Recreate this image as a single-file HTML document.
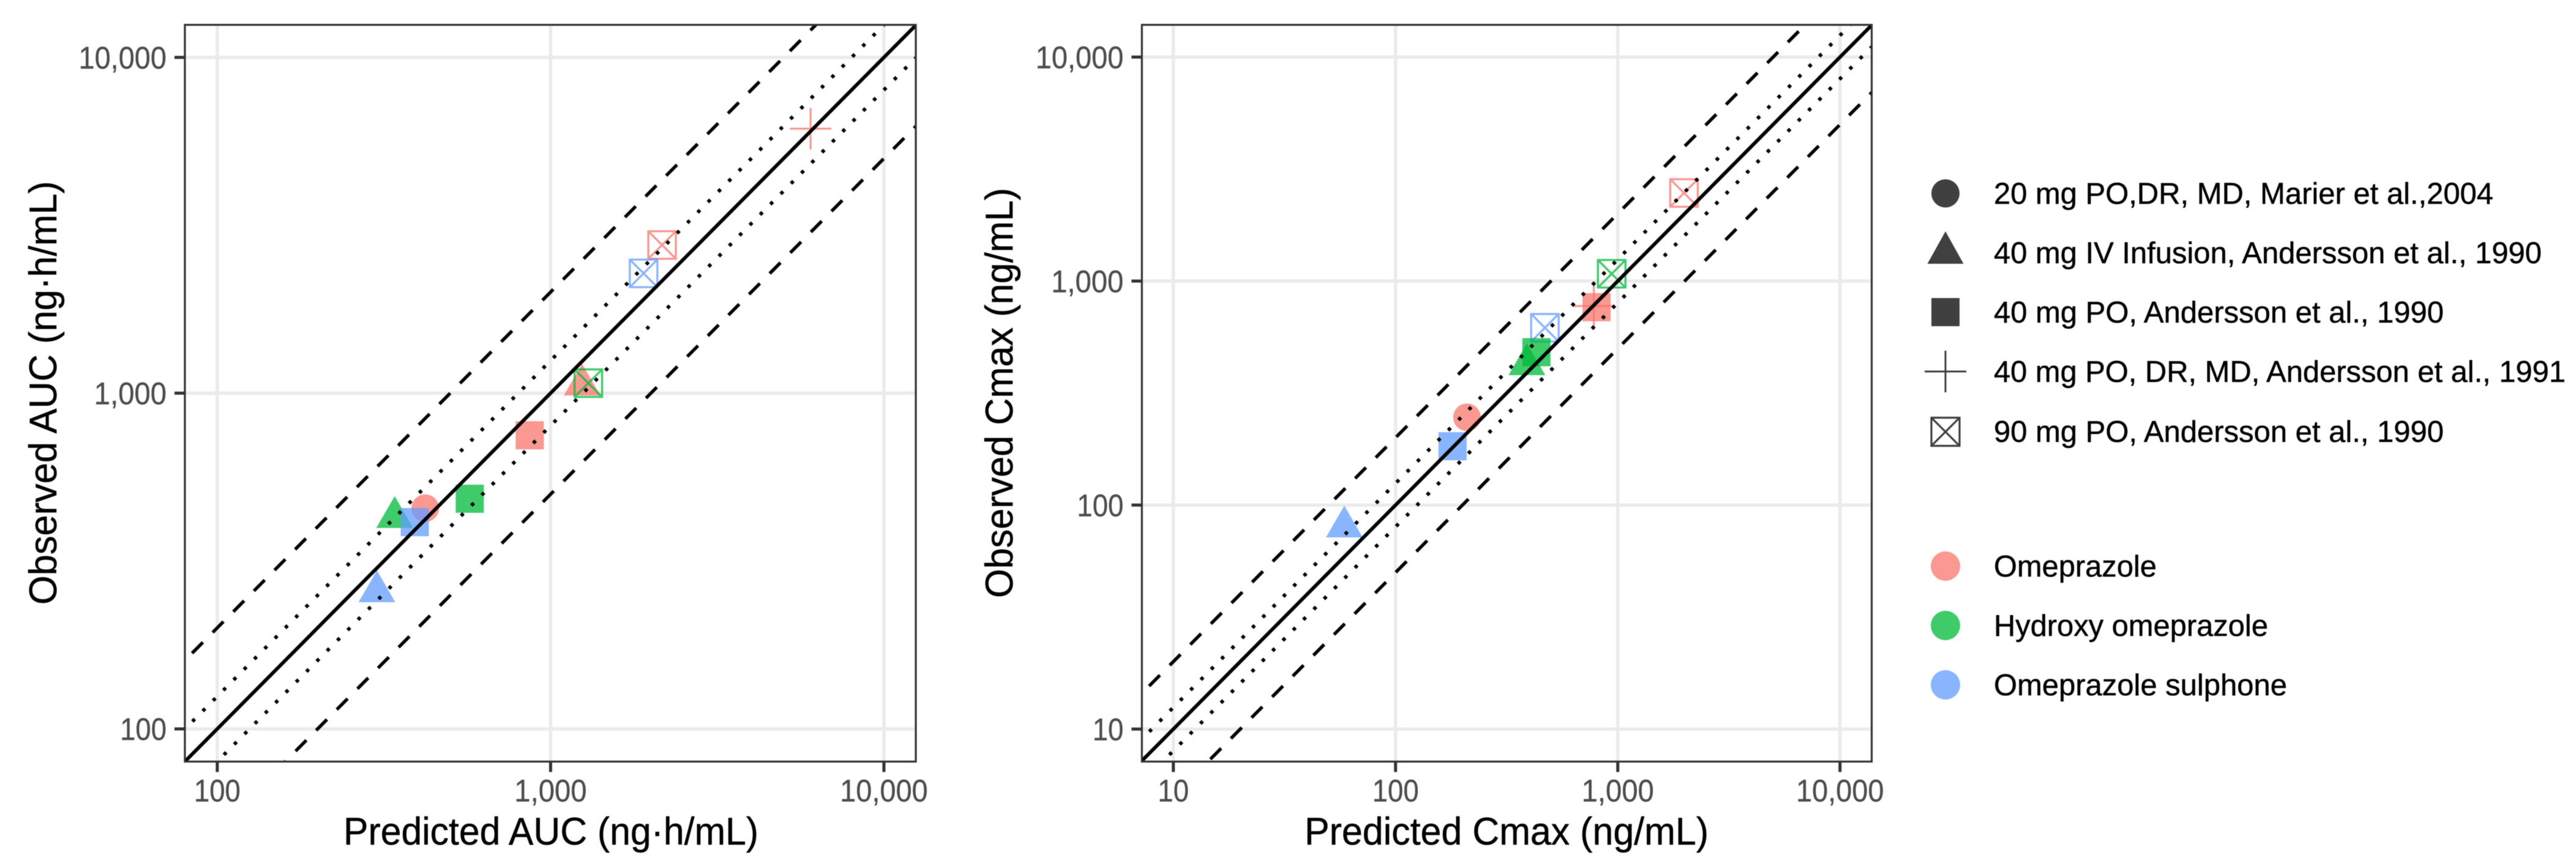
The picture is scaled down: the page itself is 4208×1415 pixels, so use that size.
<!DOCTYPE html>
<html lang="en">
<head>
<meta charset="utf-8">
<title>Observed vs predicted AUC and Cmax</title>
<style>
html,body{margin:0;padding:0;background:#fff;overflow:hidden;}
svg{display:block;filter:blur(0.6px);}
text{font-family:"Liberation Sans",Arial,sans-serif;}
.tick-label{fill:#4d4d4d;stroke:#4d4d4d;stroke-width:0.4px;font-size:51px;}
.axis-title{fill:#000;stroke:#000;stroke-width:0.5px;font-size:63px;}
.legend-label{fill:#000;stroke:#000;stroke-width:0.5px;font-size:49.5px;}
</style>
</head>
<body>
<svg id="figure" xmlns="http://www.w3.org/2000/svg" width="4208" height="1415" viewBox="0 0 4208 1415">
  <rect x="0" y="0" width="4208" height="1415" fill="#fff"/>
  <g id="auc-panel"></g>
  <g id="cmax-panel"></g>

  <text class="axis-title" x="561" y="1380" textLength="678" lengthAdjust="spacingAndGlyphs">Predicted AUC (ng·h/mL)</text>
  <text class="axis-title" transform="translate(92,988) rotate(-90)" x="0" y="0" textLength="692" lengthAdjust="spacingAndGlyphs">Observed AUC (ng·h/mL)</text>
  <text class="axis-title" x="2131" y="1380" textLength="660" lengthAdjust="spacingAndGlyphs">Predicted Cmax (ng/mL)</text>
  <text class="axis-title" transform="translate(1654,977) rotate(-90)" x="0" y="0" textLength="670" lengthAdjust="spacingAndGlyphs">Observed Cmax (ng/mL)</text>

  <g>
    <g>
      <circle cx="3178" cy="316" r="23" fill="#404040"/>
      <text class="legend-label" x="3257" y="333" textLength="816" lengthAdjust="spacingAndGlyphs">20 mg PO,DR, MD, Marier et al.,2004</text>
    </g>
    <g>
      <polygon points="3178,378 3207.5,431 3148.5,431" fill="#404040"/>
      <text class="legend-label" x="3257" y="430" textLength="895" lengthAdjust="spacingAndGlyphs">40 mg IV Infusion, Andersson et al., 1990</text>
    </g>
    <g>
      <rect x="3155" y="487" width="46" height="46" fill="#404040"/>
      <text class="legend-label" x="3257" y="527" textLength="735" lengthAdjust="spacingAndGlyphs">40 mg PO, Andersson et al., 1990</text>
    </g>
    <g>
      <path d="M3144 607H3212M3178 573V641" stroke="#404040" stroke-width="3" fill="none"/>
      <text class="legend-label" x="3257" y="624" textLength="934" lengthAdjust="spacingAndGlyphs">40 mg PO, DR, MD, Andersson et al., 1991</text>
    </g>
    <g>
      <path d="M3155 682.5H3201V728.5H3155ZM3155 682.5L3201 728.5M3201 682.5L3155 728.5" stroke="#404040" stroke-width="3.2" fill="none"/>
      <text class="legend-label" x="3257" y="722" textLength="735" lengthAdjust="spacingAndGlyphs">90 mg PO, Andersson et al., 1990</text>
    </g>
  </g>

  <g>
    <g>
      <circle cx="3178" cy="925" r="24" fill="#F8766D" fill-opacity="0.75"/>
      <text class="legend-label" x="3257" y="942" textLength="266" lengthAdjust="spacingAndGlyphs">Omeprazole</text>
    </g>
    <g>
      <circle cx="3178" cy="1022" r="24" fill="#00BA38" fill-opacity="0.75"/>
      <text class="legend-label" x="3257" y="1039" textLength="448" lengthAdjust="spacingAndGlyphs">Hydroxy omeprazole</text>
    </g>
    <g>
      <circle cx="3178" cy="1119" r="24" fill="#619CFF" fill-opacity="0.75"/>
      <text class="legend-label" x="3257" y="1136" textLength="479" lengthAdjust="spacingAndGlyphs">Omeprazole sulphone</text>
    </g>
  </g>
</svg>

<script>
// ---- chart data ----
const aucXTicks = [100, 1000, 10000];
const aucYTicks = [100, 1000, 10000];
const aucXTickLabels = ['100', '1,000', '10,000'];
const aucYTickLabels = ['100', '1,000', '10,000'];
const aucShapes = ['triangle', 'circle', 'square', 'square', 'triangle', 'triangle', 'box', 'box', 'box', 'plus', 'square'];
const aucCompounds = ['hydroxy', 'omeprazole', 'hydroxy', 'omeprazole', 'sulphone', 'omeprazole', 'hydroxy', 'omeprazole', 'sulphone', 'omeprazole', 'sulphone'];
const aucPredicted = [340.6, 420.6, 572.1, 865.9, 301.3, 1243, 1298, 2160, 1901, 6026, 391.3];
const aucObserved = [426.6, 454.4, 484.7, 749.1, 256.4, 1058, 1071, 2762, 2274, 6133, 412.9];

const cmaxXTicks = [10, 100, 1000, 10000];
const cmaxYTicks = [10, 100, 1000, 10000];
const cmaxXTickLabels = ['10', '100', '1,000', '10,000'];
const cmaxYTickLabels = ['10', '100', '1,000', '10,000'];
const cmaxShapes = ['circle', 'triangle', 'square', 'triangle', 'box', 'square', 'box', 'plus', 'square', 'box'];
const cmaxCompounds = ['omeprazole', 'sulphone', 'sulphone', 'hydroxy', 'sulphone', 'hydroxy', 'hydroxy', 'omeprazole', 'omeprazole', 'omeprazole'];
const cmaxPredicted = [209.6, 58.8, 180.5, 389.9, 470, 430.5, 939, 780, 802.5, 1986];
const cmaxObserved = [246.6, 80, 183.2, 424, 619, 481.5, 1078, 774, 765, 2474];

const referenceRatios = [1, 1.25, 0.8, 2, 0.5];
const referenceKinds = ['unity', 'dotted', 'dotted', 'dashed', 'dashed'];

// ---- styling ----
const compoundColors = { omeprazole: '#F8766D', hydroxy: '#00BA38', sulphone: '#619CFF' };
const SVG_NS = 'http://www.w3.org/2000/svg';

function svgEl(tag, attrs, parent) {
  const el = document.createElementNS(SVG_NS, tag);
  for (const key in attrs) el.setAttribute(key, attrs[key]);
  parent.appendChild(el);
  return el;
}

// log10 axis: maps a value to pixels from one decade reference and a signed pixels-per-decade scale
function logScale(refValue, refPixel, pixelsPerDecade) {
  const fn = v => refPixel + pixelsPerDecade * (Math.log10(v) - Math.log10(refValue));
  fn.invertLog = p => Math.log10(refValue) + (p - refPixel) / pixelsPerDecade;
  return fn;
}

function tickLabelWidth(label) {
  const digits = label.replace(/,/g, '').length;
  const commas = label.length - digits;
  return digits * 25.3 + commas * 17;
}

function drawMarker(parent, shape, cx, cy, color) {
  const g = svgEl('g', { opacity: 0.75 }, parent);
  if (shape === 'circle') {
    svgEl('circle', { cx: cx, cy: cy, r: 22.5, fill: color }, g);
  } else if (shape === 'square') {
    svgEl('rect', { x: cx - 23, y: cy - 23, width: 46, height: 46, fill: color }, g);
  } else if (shape === 'triangle') {
    svgEl('polygon', {
      points: cx + ',' + (cy - 34.7) + ' ' + (cx + 30) + ',' + (cy + 17.3) + ' ' + (cx - 30) + ',' + (cy + 17.3),
      fill: color
    }, g);
  } else if (shape === 'plus') {
    svgEl('path', {
      d: 'M' + (cx - 34) + ' ' + cy + 'H' + (cx + 34) + 'M' + cx + ' ' + (cy - 34) + 'V' + (cy + 34),
      stroke: color, 'stroke-width': 3.2, fill: 'none'
    }, g);
  } else {
    const h = 22.5;
    svgEl('path', {
      d: 'M' + (cx - h) + ' ' + (cy - h) + 'H' + (cx + h) + 'V' + (cy + h) + 'H' + (cx - h) + 'Z' +
         'M' + (cx - h) + ' ' + (cy - h) + 'L' + (cx + h) + ' ' + (cy + h) +
         'M' + (cx + h) + ' ' + (cy - h) + 'L' + (cx - h) + ' ' + (cy + h),
      stroke: color, 'stroke-width': 3.4, fill: 'none'
    }, g);
  }
  return g;
}

function drawPanel(cfg) {
  const root = document.getElementById(cfg.id);
  const xs = cfg.xScale, ys = cfg.yScale, box = cfg.box;

  const defs = svgEl('defs', {}, root);
  const clip = svgEl('clipPath', { id: cfg.id + '-clip' }, defs);
  svgEl('rect', { x: box.left, y: box.top, width: box.right - box.left, height: box.bottom - box.top }, clip);

  // gridlines
  cfg.xTicks.forEach(t => {
    const line = svgEl('line', { x1: xs(t), x2: xs(t), y1: box.top, y2: box.bottom, stroke: '#ebebeb', 'stroke-width': 5.5 }, root);
    
    
  });
  cfg.yTicks.forEach(t => {
    const line = svgEl('line', { x1: box.left, x2: box.right, y1: ys(t), y2: ys(t), stroke: '#ebebeb', 'stroke-width': 5.5 }, root);
    
    
  });

  // data points
  const pointsGroup = svgEl('g', { 'clip-path': 'url(#' + cfg.id + '-clip)' }, root);
  
  
  cfg.predicted.forEach((p, i) => {
    const marker = drawMarker(pointsGroup, cfg.shapes[i], xs(p), ys(cfg.observed[i]), compoundColors[cfg.compounds[i]]);
    
    
  });

  // reference lines (in log space: log y = log x + log ratio)
  const xMinLog = xs.invertLog(box.left), xMaxLog = xs.invertLog(box.right);
  const yMinLog = ys.invertLog(box.bottom), yMaxLog = ys.invertLog(box.top);
  const linesGroup = svgEl('g', { 'clip-path': 'url(#' + cfg.id + '-clip)' }, root);
  
  
  referenceRatios.forEach((ratio, i) => {
    const shift = Math.log10(ratio);
    const fromLog = Math.max(xMinLog, yMinLog - shift);
    const toLog = Math.min(xMaxLog, yMaxLog - shift);
    const attrs = {
      x1: xs(Math.pow(10, fromLog)), y1: ys(Math.pow(10, fromLog + shift)),
      x2: xs(Math.pow(10, toLog)), y2: ys(Math.pow(10, toLog + shift)),
      stroke: '#000', 'stroke-width': 5.8, fill: 'none'
    };
    if (referenceKinds[i] === 'dashed') {
      attrs['stroke-dasharray'] = '25 22.8';
      attrs['stroke-dashoffset'] = cfg.linePhases[i];
      attrs['stroke-width'] = 5.4;
    } else if (referenceKinds[i] === 'dotted') {
      attrs['stroke-dasharray'] = '5.6 18.31';
      attrs['stroke-dashoffset'] = cfg.linePhases[i];
    }
    const line = svgEl('line', attrs, linesGroup);
    
    
  });

  // panel border
  const border = svgEl('rect', {
    x: box.left, y: box.top, width: box.right - box.left, height: box.bottom - box.top,
    fill: 'none', stroke: '#333', 'stroke-width': 3.2
  }, root);
  
  

  // x ticks and labels
  cfg.xTicks.forEach((t, i) => {
    const tick = svgEl('line', { x1: xs(t), x2: xs(t), y1: box.bottom, y2: box.bottom + 17, stroke: '#333', 'stroke-width': 5 }, root);
    
    
    const w = tickLabelWidth(cfg.xTickLabels[i]);
    const label = svgEl('text', {
      class: 'tick-label', x: xs(t) - w / 2, y: 1309.5, textLength: w, lengthAdjust: 'spacingAndGlyphs'
    }, root);
    label.textContent = cfg.xTickLabels[i];
    
    
  });

  // y ticks and labels
  cfg.yTicks.forEach((t, i) => {
    const tick = svgEl('line', { x1: box.left - 17, x2: box.left, y1: ys(t), y2: ys(t), stroke: '#333', 'stroke-width': 5 }, root);
    
    
    const w = tickLabelWidth(cfg.yTickLabels[i]);
    const label = svgEl('text', {
      class: 'tick-label', x: box.left - 30 - w, y: ys(t) + 18, textLength: w, lengthAdjust: 'spacingAndGlyphs'
    }, root);
    label.textContent = cfg.yTickLabels[i];
    
    
  });
}

drawPanel({
  id: 'auc-panel',
  box: { left: 302, right: 1496, top: 40.6, bottom: 1244.4 },
  xScale: logScale(100, 354.9, 544.5),
  yScale: logScale(100, 1191, -548.6),
  xTicks: aucXTicks, yTicks: aucYTicks,
  xTickLabels: aucXTickLabels, yTickLabels: aucYTickLabels,
  shapes: aucShapes, compounds: aucCompounds,
  predicted: aucPredicted, observed: aucObserved,
  linePhases: [0, 6.5, 8.2, 31.1, 23.6]
});

drawPanel({
  id: 'cmax-panel',
  box: { left: 1865.3, right: 3057.5, top: 40.6, bottom: 1244.4 },
  xScale: logScale(10, 1916.7, 363),
  yScale: logScale(10, 1191.3, -366),
  xTicks: cmaxXTicks, yTicks: cmaxYTicks,
  xTickLabels: cmaxXTickLabels, yTickLabels: cmaxYTickLabels,
  shapes: cmaxShapes, compounds: cmaxCompounds,
  predicted: cmaxPredicted, observed: cmaxObserved,
  linePhases: [0, 6.8, 8.3, 31, 42.3]
});
</script>
</body>
</html>
